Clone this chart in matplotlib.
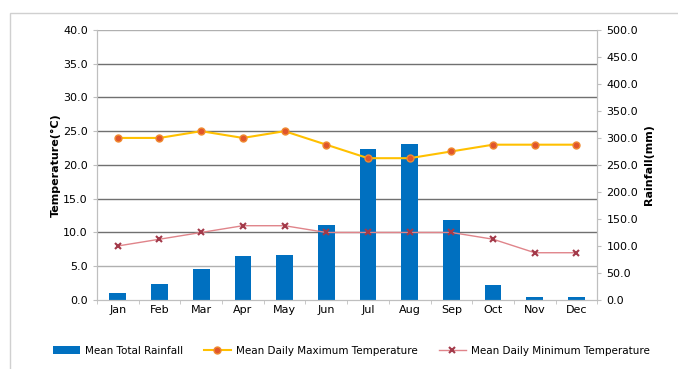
import numpy as np
import matplotlib
matplotlib.use("Agg")
import matplotlib.pyplot as plt
from matplotlib.patches import Rectangle

# -----------------------------------------------------------------------------
# DATA
# -----------------------------------------------------------------------------
months   = ["Jan", "Feb", "Mar", "Apr", "May", "Jun",
            "Jul", "Aug", "Sep", "Oct", "Nov", "Dec"]
rainfall = [13, 30, 57, 81, 84, 139, 280, 289, 148, 27, 6, 6]
max_temp = [24, 24, 25, 24, 25, 23, 21, 21, 22, 23, 23, 23]
min_temp = [8, 9, 10, 11, 11, 10, 10, 10, 10, 9, 7, 7]

temp_ticks = np.arange(0, 45, 5)
rain_ticks = np.arange(0, 550, 50)

# -----------------------------------------------------------------------------
# PLOT
# -----------------------------------------------------------------------------
fig = plt.figure(figsize=(6.78, 3.69), dpi=100)
ax = fig.add_axes([0.143, 0.187, 0.738, 0.732])
ax2 = ax.twinx()

x = np.arange(len(months))

# bars on the rainfall axis, drawn behind the temperature lines
bars = ax2.bar(x, rainfall, width=0.4, color="#0070C0", zorder=1,
               label="Mean Total Rainfall")
ax.set_zorder(ax2.get_zorder() + 1)
ax.patch.set_visible(False)

l1, = ax.plot(x, max_temp, color="#FFC000", linewidth=1.5, marker="o",
              markersize=5, markerfacecolor="#E0552B", markeredgecolor="#F08A30",
              label="Mean Daily Maximum Temperature")
l2, = ax.plot(x, min_temp, color="#E0848A", linewidth=1.0, marker="x",
              markersize=5, markeredgecolor="#A33A4A", markeredgewidth=1.5,
              label="Mean Daily Minimum Temperature")

ax.set_ylim(0, 40)
ax.set_yticks(temp_ticks)
ax.set_yticklabels([f"{t:.1f}" for t in temp_ticks], fontsize=8)
ax2.set_ylim(0, 500)
ax2.set_yticks(rain_ticks)
ax2.set_yticklabels([f"{t:.1f}" for t in rain_ticks], fontsize=8)

ax.set_xlim(-0.5, len(months) - 0.5)
ax.set_xticks(x)
ax.set_xticklabels(months, fontsize=8)
ax.set_xticks(np.arange(-0.5, len(months), 1), minor=True)

# gridlines: dark for the inner levels, lighter at 5 and at the top
for t in temp_ticks[1:]:
    col = "#707070" if 5 < t < 40 else "#B0B0B0"
    ax2.axhline(t * 12.5, color=col, linewidth=1.0, zorder=0)

for a in (ax, ax2):
    a.spines["top"].set_visible(False)
    a.spines["left"].set_color("#BFBFBF")
    a.spines["right"].set_color("#BFBFBF")
    a.spines["bottom"].set_color("#BFBFBF")
    a.tick_params(length=3, color="#BFBFBF")
ax.tick_params(axis="x", which="major", length=0)
ax.tick_params(axis="x", which="minor", length=3, color="#BFBFBF")

ax.set_ylabel("Temperature(°C)", fontsize=8, fontweight="bold", labelpad=2)
ax2.set_ylabel("Rainfall(mm)", fontsize=8, fontweight="bold", labelpad=4)

fig.legend(handles=[bars, l1, l2], loc="center", bbox_to_anchor=(0.518, 0.05),
           ncol=3, frameon=False, fontsize=7.5, handlelength=2.6,
           columnspacing=2.0, handletextpad=0.5)

# light frame around the whole chart
fig.patches.append(Rectangle((0.015, -0.1), 1.2, 1.065, transform=fig.transFigure,
                             fill=False, edgecolor="#D0D0D0", linewidth=1.0))

fig.savefig("out.png", dpi=100)
